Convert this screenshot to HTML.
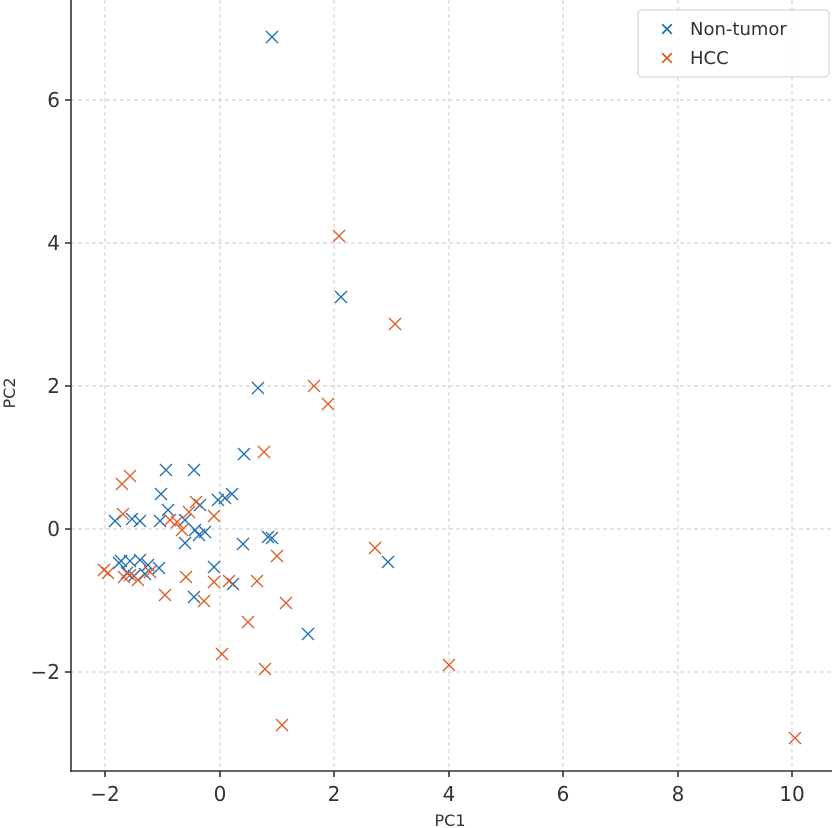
<!DOCTYPE html>
<html><head><meta charset="utf-8"><style>body{margin:0;background:#fff}svg{display:block}</style></head>
<body>
<svg width="832" height="828" xmlns="http://www.w3.org/2000/svg" font-family="DejaVu Sans, Liberation Sans, sans-serif">
<g stroke="#c8c8c8" stroke-width="0.9" stroke-dasharray="4,3">
<line x1="105" y1="0" x2="105" y2="771"/><line x1="220" y1="0" x2="220" y2="771"/><line x1="334" y1="0" x2="334" y2="771"/><line x1="449" y1="0" x2="449" y2="771"/><line x1="563" y1="0" x2="563" y2="771"/><line x1="678" y1="0" x2="678" y2="771"/><line x1="792" y1="0" x2="792" y2="771"/>
<line x1="71" y1="100" x2="832" y2="100"/><line x1="71" y1="243" x2="832" y2="243"/><line x1="71" y1="386" x2="832" y2="386"/><line x1="71" y1="529" x2="832" y2="529"/><line x1="71" y1="672" x2="832" y2="672"/>
</g>
<g stroke="#333" stroke-width="1.6"><line x1="71" y1="0" x2="71" y2="772"/><line x1="70" y1="771" x2="832" y2="771"/>
<line x1="105" y1="771" x2="105" y2="777"/><line x1="220" y1="771" x2="220" y2="777"/><line x1="334" y1="771" x2="334" y2="777"/><line x1="449" y1="771" x2="449" y2="777"/><line x1="563" y1="771" x2="563" y2="777"/><line x1="678" y1="771" x2="678" y2="777"/><line x1="792" y1="771" x2="792" y2="777"/>
<line x1="65" y1="100" x2="71" y2="100"/><line x1="65" y1="243" x2="71" y2="243"/><line x1="65" y1="386" x2="71" y2="386"/><line x1="65" y1="529" x2="71" y2="529"/><line x1="65" y1="672" x2="71" y2="672"/></g>
<g font-size="20" fill="#333" text-anchor="middle">
<text x="105" y="801">−2</text><text x="220" y="801">0</text><text x="334" y="801">2</text><text x="449" y="801">4</text><text x="563" y="801">6</text><text x="678" y="801">8</text><text x="792" y="801">10</text>
</g>
<g font-size="20" fill="#333" text-anchor="end">
<text x="60" y="107">6</text><text x="60" y="250">4</text><text x="60" y="393">2</text><text x="60" y="536">0</text><text x="60" y="679">−2</text>
</g>
<text x="450" y="826" font-size="16" fill="#333" text-anchor="middle">PC1</text>
<text transform="translate(15,393) rotate(-90)" font-size="16" fill="#333" text-anchor="middle">PC2</text>
<defs>
<path id="m" d="M-6,-6L6,6M-6,6L6,-6"/>
</defs>
<g stroke="#1f6fb4" stroke-width="1.3" fill="none">
<use href="#m" x="272" y="37"/><use href="#m" x="341" y="297"/><use href="#m" x="258" y="388"/><use href="#m" x="244" y="454"/><use href="#m" x="166" y="470"/><use href="#m" x="194" y="470"/><use href="#m" x="161" y="494"/><use href="#m" x="115" y="521"/><use href="#m" x="132" y="519"/><use href="#m" x="140" y="521"/><use href="#m" x="160" y="521"/><use href="#m" x="168" y="510"/><use href="#m" x="185" y="520"/><use href="#m" x="200" y="505"/><use href="#m" x="218" y="500"/><use href="#m" x="225" y="498"/><use href="#m" x="232" y="494"/><use href="#m" x="195" y="530"/><use href="#m" x="199" y="535"/><use href="#m" x="185" y="543"/><use href="#m" x="243" y="544"/><use href="#m" x="268" y="537"/><use href="#m" x="272" y="538"/><use href="#m" x="388" y="562"/><use href="#m" x="214" y="567"/><use href="#m" x="194" y="597"/><use href="#m" x="233" y="584"/><use href="#m" x="308" y="634"/><use href="#m" x="121" y="561"/><use href="#m" x="130" y="561"/><use href="#m" x="140" y="560"/><use href="#m" x="148" y="565"/><use href="#m" x="159" y="568"/><use href="#m" x="127" y="573"/><use href="#m" x="134" y="576"/><use href="#m" x="145" y="574"/><use href="#m" x="119" y="563"/><use href="#m" x="205" y="532"/>
</g>
<g stroke="#e05a25" stroke-width="1.3" fill="none">
<use href="#m" x="339" y="236"/><use href="#m" x="395" y="324"/><use href="#m" x="314" y="386"/><use href="#m" x="328" y="404"/><use href="#m" x="264" y="452"/><use href="#m" x="130" y="476"/><use href="#m" x="122" y="484"/><use href="#m" x="123" y="514"/><use href="#m" x="170" y="520"/><use href="#m" x="177" y="522"/><use href="#m" x="189" y="512"/><use href="#m" x="196" y="502"/><use href="#m" x="214" y="516"/><use href="#m" x="182" y="530"/><use href="#m" x="375" y="548"/><use href="#m" x="277" y="556"/><use href="#m" x="257" y="581"/><use href="#m" x="229" y="581"/><use href="#m" x="214" y="582"/><use href="#m" x="186" y="577"/><use href="#m" x="165" y="595"/><use href="#m" x="204" y="601"/><use href="#m" x="248" y="622"/><use href="#m" x="286" y="603"/><use href="#m" x="222" y="654"/><use href="#m" x="265" y="669"/><use href="#m" x="449" y="665"/><use href="#m" x="282" y="725"/><use href="#m" x="795" y="738"/><use href="#m" x="104" y="570"/><use href="#m" x="108" y="573"/><use href="#m" x="124" y="577"/><use href="#m" x="138" y="580"/><use href="#m" x="150" y="572"/><use href="#m" x="130" y="575"/>
</g>
<rect x="638" y="10" width="191" height="67" rx="4" fill="#fff" fill-opacity="0.85" stroke="#ccc"/>
<g stroke-width="2.2" fill="none"><use href="#m" x="667" y="29" stroke="#1f6fb4" transform="translate(667,29) scale(0.8) translate(-667,-29)"/><use href="#m" x="667" y="58" stroke="#e05a25" transform="translate(667,58) scale(0.8) translate(-667,-58)"/></g>
<g font-size="18" fill="#333"><text x="690" y="35">Non-tumor</text><text x="690" y="64">HCC</text></g>
</svg>
</body></html>
